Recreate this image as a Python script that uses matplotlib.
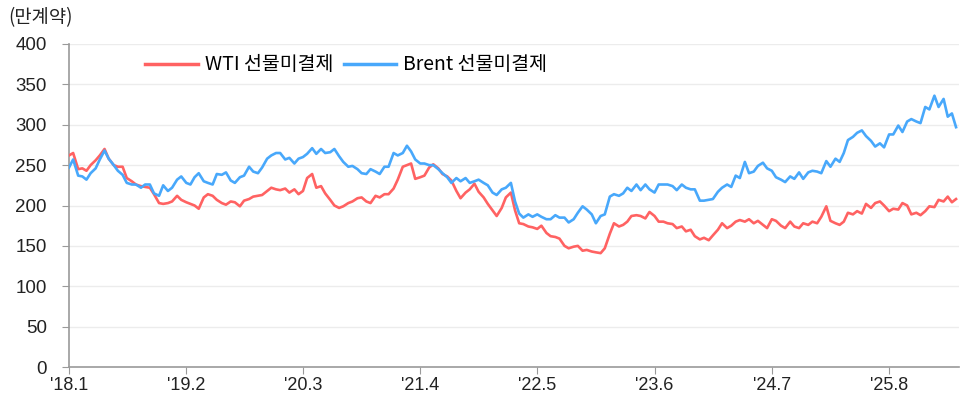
import pandas as pd
import matplotlib
matplotlib.use("Agg")
from matplotlib import pyplot as plt

# semi-monthly readings, Jan 2018 .. Mar 2026 (만계약)
wti = [262, 265, 245, 246, 243, 250, 256, 262, 270, 258,
       250, 248, 248, 234, 230, 226, 224, 223, 222, 214,
       203, 202, 203, 205, 212, 207, 204, 202, 200, 196,
       210, 214, 212, 207, 203, 201, 205, 204, 199, 206,
       208, 211, 212, 213, 218, 222, 220, 219, 221, 216,
       220, 214, 218, 234, 239, 222, 224, 215, 207, 200,
       197, 199, 203, 205, 209,
       210, 205, 203, 212, 210, 214, 214, 221, 232, 248,
       250, 252, 233, 235, 237, 247, 251, 246, 239, 236,
       231, 218, 209, 216, 220, 227, 217, 210, 202, 194,
       187, 197, 210, 216, 194, 178, 177, 174, 173, 171,
       175, 166, 162, 161, 159, 150, 147, 149, 150, 144,
       145, 143, 142, 141, 147, 165, 178, 174, 176, 180,
       187, 188, 187, 184, 192, 187, 180,
       180, 178, 177, 172, 174, 168, 170, 162, 158, 160,
       157, 163, 170, 178, 172, 175, 180, 182, 180, 183,
       178, 181, 176, 172, 183, 181, 175, 172, 180, 174,
       172, 178, 176, 180, 178, 186, 199, 181, 178, 176,
       180, 191, 189, 193, 190, 202, 197, 203, 205, 200,
       193, 196, 195, 203, 200, 189, 191, 188, 193, 199,
       198, 207, 205, 211, 204, 208]

brent = [247, 257, 237, 236, 232, 240, 246, 257, 268, 258,
         250, 243, 238, 228, 226, 226, 222, 226, 226, 215,
         212, 225, 218, 222, 232, 236, 228, 226, 235, 240,
         230, 228, 226, 239, 238, 241, 231, 228, 235, 237,
         248, 242, 240, 247, 258, 262, 265, 265, 257, 259,
         252, 258, 260, 264, 271, 264, 270, 265, 266, 270,
         261, 254, 248, 249, 245,
         240, 239, 245, 242, 239, 248, 248, 265, 262, 265,
         274, 267, 257, 252, 252, 250, 250, 245, 240, 235,
         228, 234, 230, 234, 228, 230, 232, 228, 225, 216,
         213, 220, 222, 228, 205, 190, 185, 189, 186, 189,
         186, 183, 183, 188, 185, 185, 179, 183, 191, 199,
         195, 189, 178, 187, 189, 211, 214, 212, 215, 222,
         218, 226, 219, 226, 220, 216, 226,
         226, 226, 224, 219, 226, 222, 220, 220, 206, 206,
         207, 208, 217, 222, 226, 223, 237, 234, 254, 240,
         242, 249, 253, 246, 243, 235, 232, 229, 236, 233,
         241, 233, 241, 243, 242, 240, 255, 248, 258, 254,
         265, 281, 285, 290, 293, 286, 280, 273, 277, 272,
         288, 288, 299, 291, 304, 307, 304, 302, 322, 319,
         336, 322, 332, 310, 314, 297]

dates = pd.date_range("2018-01-01", periods=len(wti), freq="SMS")

tick_dates = pd.to_datetime(["2018-01-01", "2019-02-01", "2020-03-01", "2021-04-01",
                             "2022-05-01", "2023-06-01", "2024-07-01", "2025-08-01"])
tick_labels = ["'18.1", "'19.2", "'20.3", "'21.4", "'22.5", "'23.6", "'24.7", "'25.8"]
y_ticks = [0, 50, 100, 150, 200, 250, 300, 350, 400]

kr = ["Noto Sans CJK KR", "DejaVu Sans"]

fig = plt.figure(figsize=(9.6, 4), dpi=100)
ax = fig.add_axes([69 / 960, 1 - 367 / 400, 890 / 960, 323 / 400])

ax.plot(dates, wti, color="#ff6262", lw=1.9, label="WTI 선물미결제", zorder=3)
ax.plot(dates, brent, color="#48a8fb", lw=1.9, label="Brent 선물미결제", zorder=3)

ax.set_ylim(0, 400)
ax.set_yticks(y_ticks)
ax.set_xlim(pd.Timestamp("2018-01-01"), pd.Timestamp("2026-03-25"))
ax.set_xticks(tick_dates)
ax.set_xticklabels(tick_labels)

ax.grid(axis="y", color="#ececec", lw=1)
ax.set_axisbelow(True)
for s in ["top", "right"]:
    ax.spines[s].set_visible(False)
for s in ["left", "bottom"]:
    ax.spines[s].set_color("#9a9a9a")
    ax.spines[s].set_linewidth(1.2)

ax.tick_params(axis="y", length=5, color="#9a9a9a", pad=11, labelsize=13.5, labelcolor="#222222")
ax.tick_params(axis="x", length=5, color="#9a9a9a", pad=2, labelsize=13, labelcolor="#222222")
for t in ax.get_yticklabels():
    t.set_family(["Liberation Sans", "DejaVu Sans"])
for t in ax.get_xticklabels():
    t.set_family(["Liberation Sans Narrow", "Liberation Sans", "DejaVu Sans"])

leg = ax.legend(loc="center left", bbox_to_anchor=(0.066, 0.935), ncol=2, frameon=False,
                handlelength=2.7, handletextpad=0.35, columnspacing=0.55,
                prop={"family": kr, "size": 14})
for line in leg.get_lines():
    line.set_linewidth(2.5)

fig.text(8 / 960, 1 - 18 / 400, "(만계약)", family=kr, fontsize=13.5,
         ha="left", va="center", color="#222222")

fig.savefig("out.png", dpi=100)
